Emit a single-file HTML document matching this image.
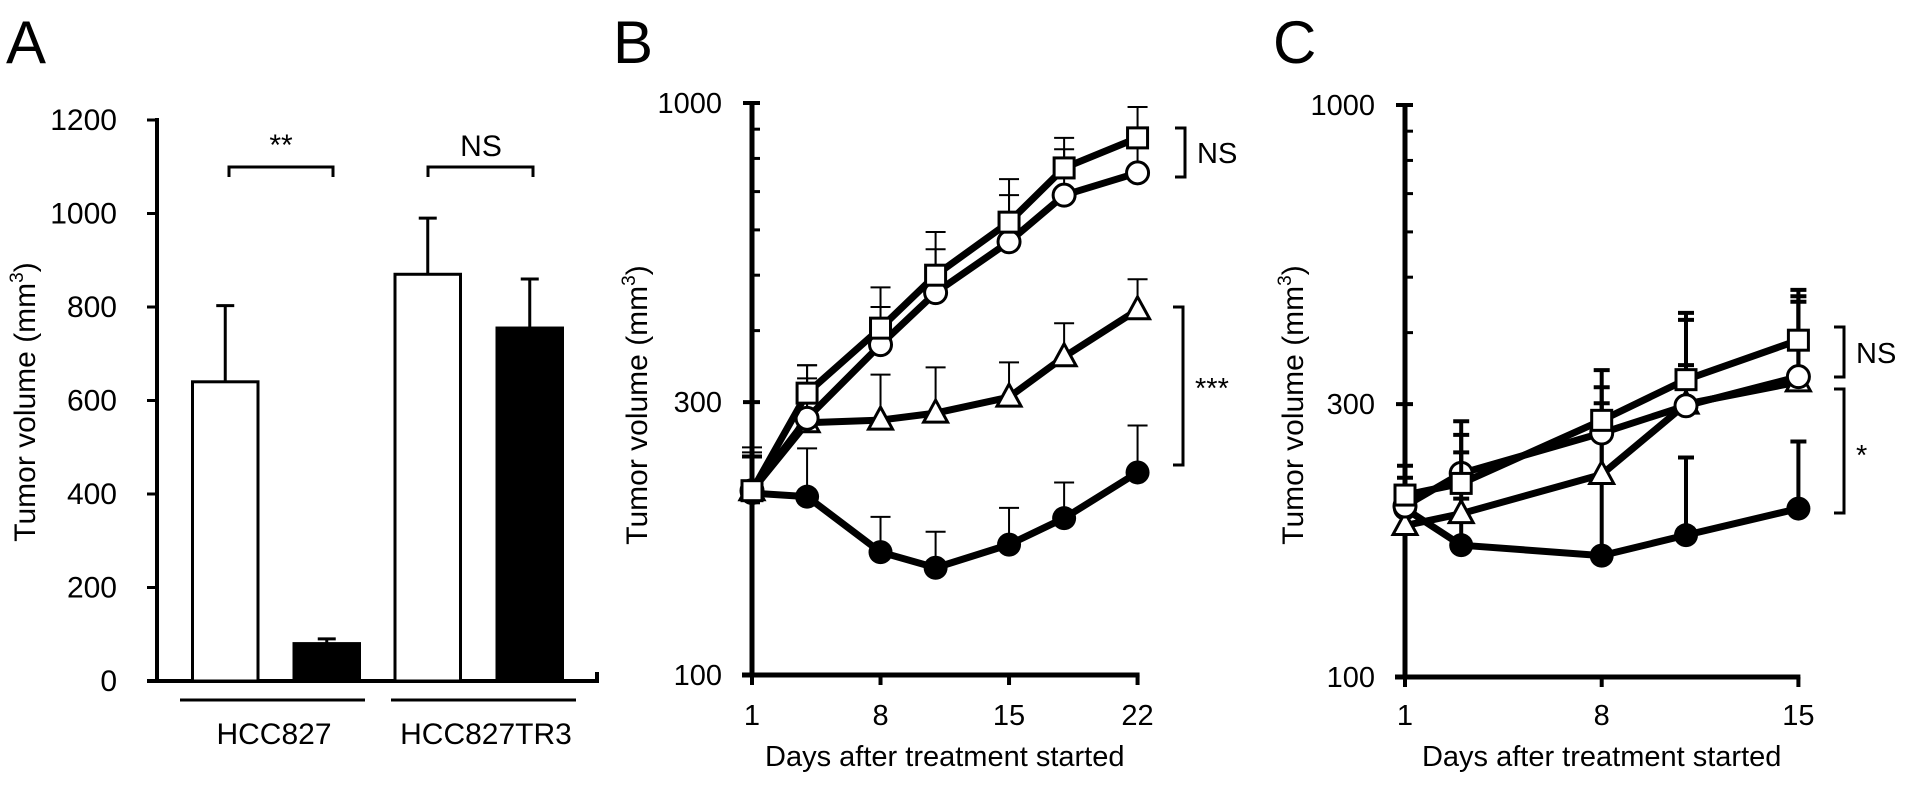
<!DOCTYPE html>
<html><head><meta charset="utf-8"><style>
html,body{margin:0;padding:0;background:#fff;}
svg{display:block;font-family:"Liberation Sans",Arial,sans-serif;}
</style></head><body>
<svg id="fig" width="1913" height="785" viewBox="0 0 1913 785" xmlns="http://www.w3.org/2000/svg">
<g id="pa"></g>
<g id="pb"></g>
<g id="pc"></g>
</svg>
<script>
// Panel A data
const aCategories = ["HCC827-control","HCC827-treated","HCC827TR3-control","HCC827TR3-treated"];
const aValues = [640, 80, 870, 755];
const aErrors = [803, 90, 990, 860];
const aFill = ["white","black","white","black"];
const aTicks = [0,200,400,600,800,1000,1200];
const aGroups = ["HCC827","HCC827TR3"];
// Panel B data
const bDays = [1,4,8,11,15,18,22];
const bSquare = [210,311,404,500,619,770,869];
const bSquareErr = [250,348,476,595,736,869,984];
const bCircle = [210,281,378,466,572,690,755];
const bCircleErr = [245,330,440,555,690,830,900];
const bTriangle = [210,276,279,287,306,360,435];
const bTriangleErr = [242,348,335,345,352,412,492];
const bFilled = [208,205,164,154,169,188,226];
const bFilledErr = [240,249,189,178,196,217,273];
const bXTicks = [1,8,15,22];
// Panel C data
const cDays = [1,3,8,11,15];
const cSquare = [208,218,281,331,388];
const cSquareErr = [234,280,344,433,475];
const cCircle = [199,227,267,298,335];
const cCircleErr = [223,265,321,351,463];
const cTriangle = [184,193,226,300,328];
const cTriangleErr = [215,247,301,421,453];
const cFilled = [197,170,163,177,197];
const cFilledErr = [215,205,290,242,258];
const cXTicks = [1,8,15];
const yLogTicks = [100,300,1000];

const NS="http://www.w3.org/2000/svg";
function el(parent,tag,attrs,text){const e=document.createElementNS(NS,tag);for(const k in attrs)e.setAttribute(k,attrs[k]);if(text!==undefined)e.textContent=text;parent.appendChild(e);return e;}

// ---------- Panel A ----------
(function(){
  const g=document.getElementById('pa');
  const y=v=>681-(v/1200)*561;
  const x0=[192.5,294,395,497], bw=65.5;
  let t=el(g,'text',{x:6,y:63,'font-size':60});
  t.textContent='A';
  let ax=el(g,'line',{x1:157,y1:118,x2:157,y2:683,stroke:'#000','stroke-width':4});
  
  let xa=el(g,'path',{d:'M147 681 H597 V672',stroke:'#000','stroke-width':4,fill:'none'});
  
  aTicks.forEach(v=>{
    const tk=el(g,'line',{x1:147,x2:157,y1:y(v),y2:y(v),stroke:'#000','stroke-width':3});
    
    const lb=el(g,'text',{x:117,y:y(v)+10,'font-size':30,'text-anchor':'end'},String(v));
    
  });
  const yt=el(g,'text',{x:0,y:0,'font-size':30,'text-anchor':'middle',transform:'translate(35,402) rotate(-90)'});
  
  yt.innerHTML='Tumor volume (mm<tspan dy="-12" font-size="19">3</tspan><tspan dy="12">)</tspan>';
  aValues.forEach((v,i)=>{
    const cx=x0[i]+bw/2;
    const eb=el(g,'path',{d:`M${cx} ${y(v)} V${y(aErrors[i])} M${cx-9} ${y(aErrors[i])} H${cx+9}`,stroke:'#000','stroke-width':3,fill:'none'});
    
    const r=el(g,'rect',{x:x0[i],y:y(v),width:bw,height:681-y(v),fill:aFill[i],stroke:'#000','stroke-width':3});
    
  });
  const br1=el(g,'path',{d:'M229 177 V167 H333 V177',stroke:'#000','stroke-width':3,fill:'none'});
  
  const s1=el(g,'text',{x:281,y:155,'font-size':30,'text-anchor':'middle'},'**');
  
  const br2=el(g,'path',{d:'M428 177 V167 H533 V177',stroke:'#000','stroke-width':3,fill:'none'});
  
  const s2=el(g,'text',{x:481,y:156,'font-size':30,'text-anchor':'middle'},'NS');
  
  const ul=[[180,365,274],[391,576,486]];
  aGroups.forEach((n,i)=>{
    const l=el(g,'line',{x1:ul[i][0],x2:ul[i][1],y1:700,y2:700,stroke:'#000','stroke-width':3});
    
    const tt=el(g,'text',{x:ul[i][2],y:744,'font-size':30,'text-anchor':'middle'},n);
    
  });
})();

// ---------- Line panels ----------
function linePanel(gid,opt){
  const g=document.getElementById(gid);
  const y=v=>opt.y100-(Math.log10(v)-2)*opt.dec;
  const x=d=>opt.x0+(d-1)*opt.pd;
  const lt=el(g,'text',{x:opt.lx,y:63,'font-size':60});
  lt.textContent=opt.letter;
  const ya=el(g,'line',{x1:opt.x0,x2:opt.x0,y1:y(1000)-2,y2:y(100)+2,stroke:'#000','stroke-width':5});
  
  const xa=el(g,'line',{x1:opt.x0-10,x2:x(opt.xt[opt.xt.length-1])+2,y1:y(100),y2:y(100),stroke:'#000','stroke-width':5});
  
  for(let v=200;v<1000;v+=100){
    const m=el(g,'line',{x1:opt.x0,x2:opt.x0+8,y1:y(v),y2:y(v),stroke:'#000','stroke-width':3});
    
  }
  yLogTicks.forEach(v=>{
    const m=el(g,'line',{x1:opt.x0-9,x2:opt.x0+8,y1:y(v),y2:y(v),stroke:'#000','stroke-width':4});
    
    const tl=el(g,'text',{x:opt.x0-30,y:y(v)+10,'font-size':29,'text-anchor':'end'},String(v));
    
  });
  opt.xt.forEach(d=>{
    const m=el(g,'line',{x1:x(d),x2:x(d),y1:y(100),y2:y(100)+10,stroke:'#000','stroke-width':4});
    
    const tl=el(g,'text',{x:x(d),y:725,'font-size':29,'text-anchor':'middle'},String(d));
    
  });
  const xt=el(g,'text',{x:(opt.x0+x(opt.xt[opt.xt.length-1]))/2,y:766,'font-size':29,'text-anchor':'middle'},'Days after treatment started');
  
  const yt=el(g,'text',{x:0,y:0,'font-size':30,'text-anchor':'middle',transform:`translate(${opt.ytx},405) rotate(-90)`});
  
  yt.innerHTML='Tumor volume (mm<tspan dy="-12" font-size="19">3</tspan><tspan dy="12">)</tspan>';
  const series=opt.series;
  series.forEach(s=>{
    const sg=el(g,'g',{});
    
    const pts=opt.days.map((d,i)=>x(d)+','+y(s.v[i])).join(' ');
    const pl=el(sg,'polyline',{points:pts,fill:'none',stroke:'#000','stroke-width':7,'stroke-linejoin':'round'});
    
    opt.days.forEach((d,i)=>{
      const cx=x(d),cy=y(s.v[i]),ey=y(s.e[i]);
      const eb=el(sg,'path',{d:`M${cx} ${cy} V${ey} M${cx-opt.cap} ${ey} H${cx+opt.cap}`,stroke:'#000','stroke-width':opt.ew,fill:'none'});
      
    });
    opt.days.forEach((d,i)=>{
      const cx=x(d),cy=y(s.v[i]);let m;
      if(s.shape==='square')m=el(sg,'rect',{x:cx-10,y:cy-10,width:20,height:20,fill:'#fff',stroke:'#000','stroke-width':3});
      else if(s.shape==='circle')m=el(sg,'circle',{cx:cx,cy:cy,r:11,fill:'#fff',stroke:'#000','stroke-width':3});
      else if(s.shape==='triangle')m=el(sg,'polygon',{points:`${cx},${cy-13} ${cx+12},${cy+9} ${cx-12},${cy+9}`,fill:'#fff',stroke:'#000','stroke-width':3});
      else m=el(sg,'circle',{cx:cx,cy:cy,r:12,fill:'#000'});
      
    });
  });
  opt.brackets.forEach(b=>{
    const p=el(g,'path',{d:`M${b.x-10} ${b.y1} H${b.x} V${b.y2} H${b.x-10}`,stroke:'#000','stroke-width':3,fill:'none'});
    
    const t=el(g,'text',{x:b.x+12,y:b.ty,'font-size':29},b.label);
    
  });
}
linePanel('pb',{letter:'B',lx:613,x0:752,pd:18.36,y100:675,dec:572,ytx:647,days:bDays,xt:bXTicks,cap:10,ew:2,
  series:[{name:'filled-circle',shape:'filled',v:bFilled,e:bFilledErr},{name:'triangle',shape:'triangle',v:bTriangle,e:bTriangleErr},
          {name:'circle',shape:'circle',v:bCircle,e:bCircleErr},{name:'square',shape:'square',v:bSquare,e:bSquareErr}],
  brackets:[{x:1185,y1:128,y2:177,label:'NS',ty:163},{x:1183,y1:307,y2:465,label:'***',ty:398}]});
linePanel('pc',{letter:'C',lx:1273,x0:1405,pd:28.1,y100:677,dec:572,ytx:1303,days:cDays,xt:cXTicks,cap:8,ew:4,
  series:[{name:'filled-circle',shape:'filled',v:cFilled,e:cFilledErr},{name:'triangle',shape:'triangle',v:cTriangle,e:cTriangleErr},
          {name:'circle',shape:'circle',v:cCircle,e:cCircleErr},{name:'square',shape:'square',v:cSquare,e:cSquareErr}],
  brackets:[{x:1844,y1:327,y2:377,label:'NS',ty:363},{x:1844,y1:389,y2:513,label:'*',ty:465}]});
</script>
</body></html>
